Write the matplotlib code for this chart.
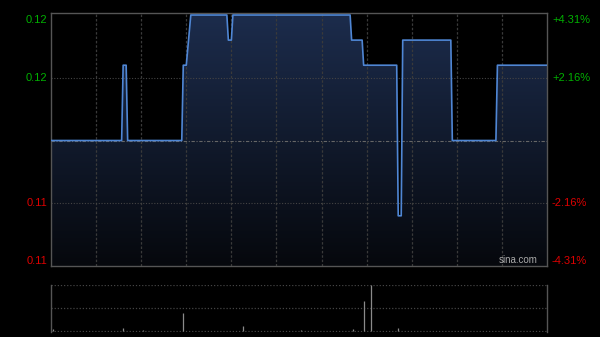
import numpy as np
import matplotlib
matplotlib.use("Agg")
from matplotlib import pyplot as plt
from matplotlib.colors import LinearSegmentedColormap
from matplotlib.patches import Polygon

plt.rcParams['font.family'] = ['Liberation Sans', 'DejaVu Sans']

# intraday data, x = minutes since 09:30 (lunch break removed, 330 min session)
prev_close = 0.116
price_minutes = [0, 47, 48, 50, 51, 87, 88, 90, 93, 117, 118, 120, 121, 199, 200,
                 207, 208, 230, 231, 233, 234, 266, 267, 296, 297, 330]
price_values = [0.116, 0.116, 0.119, 0.119, 0.116, 0.116, 0.119, 0.119, 0.121, 0.121,
                0.120, 0.120, 0.121, 0.121, 0.120, 0.120, 0.119, 0.119, 0.113, 0.113,
                0.120, 0.120, 0.116, 0.116, 0.119, 0.119]

volume_minutes = [1, 48, 61, 88, 128, 166, 201, 208, 213, 231]
volume_values = [11, 15, 6, 80, 22, 6, 11, 131, 200, 15]

session_len = 330
price_span = 0.005
grid_color = "#444444"
spine_color = "#555555"
up_color = "#00b000"
down_color = "#dd0000"


def plot_price(fig):
    ax = fig.add_axes([0.085, 0.2107, 0.8267, 0.7507], facecolor="black")
    y_min = prev_close - price_span
    y_max = prev_close + price_span
    ax.set_xlim(0, session_len)
    # small headroom so the top price line sits just under the frame
    ax.set_ylim(y_min, y_max + 0.00008)

    # gradient fill under the line
    cmap = LinearSegmentedColormap.from_list("fill", ["#06080d", "#1c2c4c"])
    grad = np.linspace(1, 0, 256).reshape(-1, 1)
    im = ax.imshow(grad, aspect="auto", cmap=cmap, origin="upper",
                   extent=[0, session_len, y_min, y_max], zorder=1)
    verts = [(price_minutes[0], y_min)] + list(zip(price_minutes, price_values)) \
        + [(price_minutes[-1], y_min)]
    poly = Polygon(verts, facecolor="none", edgecolor="none")
    ax.add_patch(poly)
    im.set_clip_path(poly)

    # grid
    for m in range(30, session_len, 30):
        ax.axvline(m, color="#3a3a3a", lw=0.9, ls=(0, (2, 1.5)), zorder=2)
    for y in [prev_close + price_span / 2, prev_close - price_span / 2]:
        ax.axhline(y, color=grid_color, lw=0.8, ls=(0, (1, 1.5)), zorder=2)
    ax.axhline(prev_close, color="#666666", lw=0.8, ls=(0, (3, 1.5, 1, 1.5)), zorder=2)

    ax.plot(price_minutes, price_values, color="#4f86d4", lw=1.2, zorder=3)

    ax.set_xticks([])
    ax.set_yticks([])
    for s in ax.spines.values():
        s.set_color(spine_color)
        s.set_linewidth(1)

    # axis labels on both sides
    levels = [y_max, prev_close + price_span / 2, prev_close - price_span / 2, y_min]
    valigns = ["top", "center", "center", "bottom"]
    for lv, va in zip(levels, valigns):
        col = up_color if lv > prev_close else down_color
        pct = (lv - prev_close) / prev_close * 100
        ax.text(-0.008, lv, f"{lv:.2f}", transform=ax.get_yaxis_transform(),
                ha="right", va=va, color=col, fontsize=8)
        ax.text(1.01, lv, f"{pct:+.2f}%", transform=ax.get_yaxis_transform(),
                ha="left", va=va, color=col, fontsize=8)

    ax.text(0.9415, 0.005, "sina.com", transform=ax.transAxes, ha="center",
            va="bottom", color="#aaaaaa", fontsize=7, zorder=4)
    return ax


def plot_volume(fig):
    ax = fig.add_axes([0.085, 0.0148, 0.8267, 0.1395], facecolor="black")
    ax.set_xlim(0, session_len)
    ax.set_ylim(-3, 200)
    for y in [200, 100, 0]:
        ax.axhline(y, color=grid_color, lw=0.9, ls=(0, (1, 1.5)), zorder=1)
    ax.vlines(volume_minutes, 0, volume_values, color="#8a8a8a", lw=0.9, zorder=2)
    ax.set_xticks([])
    ax.set_yticks([])
    for side in ["top", "bottom"]:
        ax.spines[side].set_visible(False)
    for side in ["left", "right"]:
        ax.spines[side].set_color(spine_color)
        ax.spines[side].set_linewidth(1)
    return ax


fig = plt.figure(figsize=(6, 3.37), dpi=100, facecolor="black")
plot_price(fig)
plot_volume(fig)
fig.savefig("out.png", dpi=100, facecolor="black")
